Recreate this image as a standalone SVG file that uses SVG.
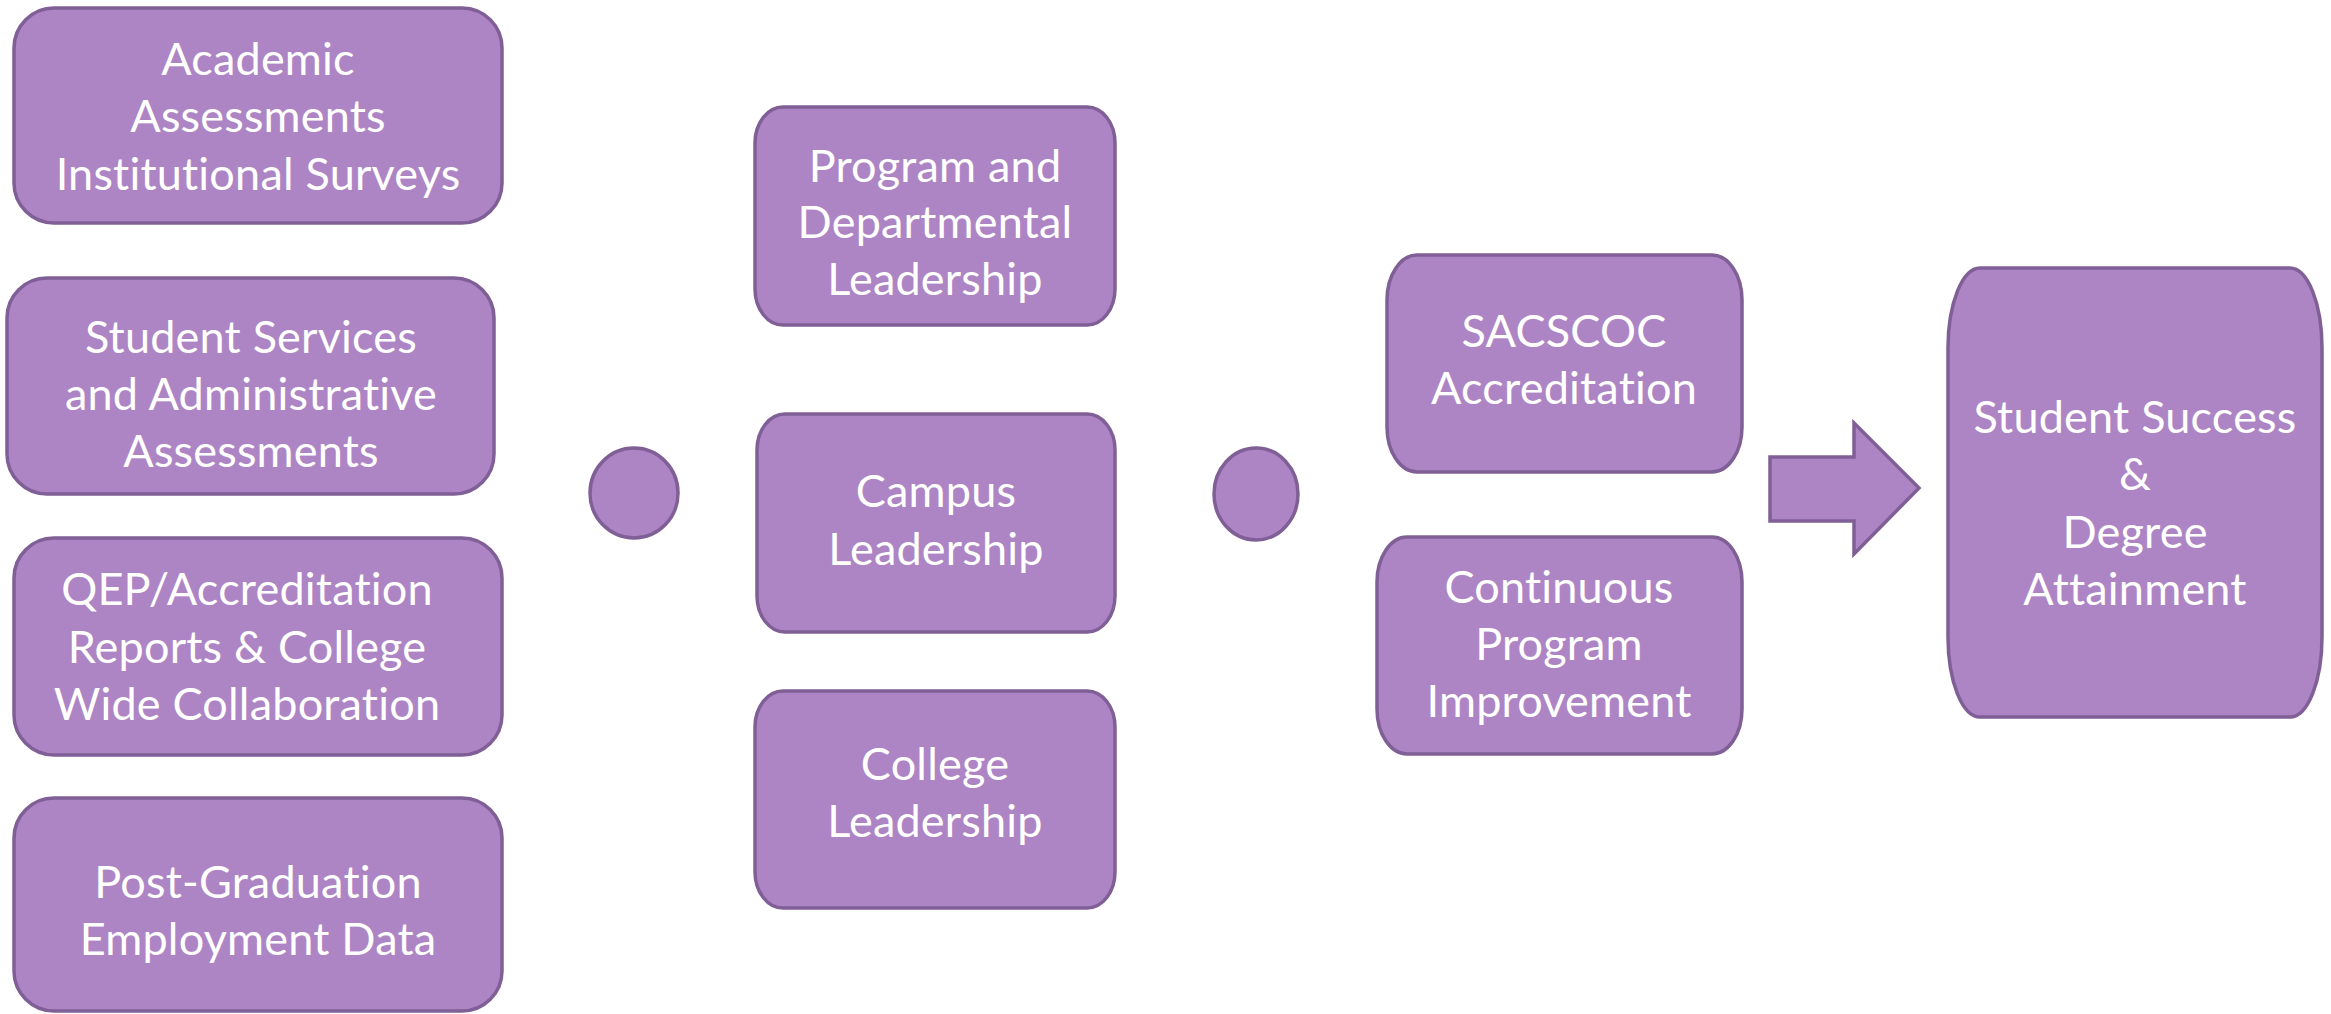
<svg xmlns="http://www.w3.org/2000/svg" width="2331" height="1014" viewBox="0 0 2331 1014">
<style>
.box{fill:#AD85C5;stroke:#7F5F96;stroke-width:3.5}
.t{fill:#FFFFFF;font-family:Lato,"Open Sans","Liberation Sans",sans-serif;font-size:45px;text-anchor:middle;font-variant-ligatures:none;font-feature-settings:"liga" 0,"clig" 0,"dlig" 0;letter-spacing:0.2px}
</style>
<rect width="2331" height="1014" fill="#FFFFFF"/>
<g id="n-academic">
<rect class="box" x="14" y="8" width="488" height="215" rx="40" ry="40"/>
<text class="t" x="258" y="75">Academic</text>
<text class="t" x="258" y="132">Assessments</text>
<text class="t" x="258" y="190">Institutional Surveys</text>
</g>
<g id="n-student-services">
<rect class="box" x="7" y="278" width="487" height="216" rx="40" ry="40"/>
<text class="t" x="251" y="353">Student Services</text>
<text class="t" x="251" y="410">and Administrative</text>
<text class="t" x="251" y="467">Assessments</text>
</g>
<g id="n-qep">
<rect class="box" x="14" y="538" width="488" height="217" rx="40" ry="40"/>
<text class="t" x="247" y="605">QEP/Accreditation</text>
<text class="t" x="247" y="663">Reports &amp; College</text>
<text class="t" x="247" y="720">Wide Collaboration</text>
</g>
<g id="n-postgrad">
<rect class="box" x="14" y="798" width="488" height="213" rx="40" ry="40"/>
<text class="t" x="258" y="898">Post-Graduation</text>
<text class="t" x="258" y="955">Employment Data</text>
</g>
<g id="n-circle1">
<ellipse class="box" cx="634" cy="493" rx="44" ry="45"/>
</g>
<g id="n-program">
<rect class="box" x="755" y="107" width="360" height="218" rx="28" ry="36"/>
<text class="t" x="935" y="182">Program and</text>
<text class="t" x="935" y="238">Departmental</text>
<text class="t" x="935" y="295">Leadership</text>
</g>
<g id="n-campus">
<rect class="box" x="757" y="414" width="358" height="218" rx="28" ry="36"/>
<text class="t" x="936" y="507">Campus</text>
<text class="t" x="936" y="565">Leadership</text>
</g>
<g id="n-college">
<rect class="box" x="755" y="691" width="360" height="217" rx="28" ry="36"/>
<text class="t" x="935" y="780">College</text>
<text class="t" x="935" y="837">Leadership</text>
</g>
<g id="n-circle2">
<ellipse class="box" cx="1256" cy="494" rx="42" ry="46"/>
</g>
<g id="n-sacscoc">
<rect class="box" x="1387" y="255" width="355" height="217" rx="30" ry="45"/>
<text class="t" x="1564" y="347">SACSCOC</text>
<text class="t" x="1564" y="404">Accreditation</text>
</g>
<g id="n-continuous">
<rect class="box" x="1377" y="537" width="365" height="217" rx="30" ry="45"/>
<text class="t" x="1559" y="603">Continuous</text>
<text class="t" x="1559" y="660">Program</text>
<text class="t" x="1559" y="717">Improvement</text>
</g>
<g id="connectors">
<path class="box" d="M1770,457 L1854,457 L1854,423 L1919,488 L1854,554 L1854,521 L1770,521 Z"/>
</g>
<g id="n-success">
<rect class="box" x="1948" y="268" width="374" height="449" rx="32" ry="80"/>
<text class="t" x="2135" y="433">Student Success</text>
<text class="t" x="2135" y="490">&amp;</text>
<text class="t" x="2135" y="548">Degree</text>
<text class="t" x="2135" y="605">Attainment</text>
</g>
</svg>
